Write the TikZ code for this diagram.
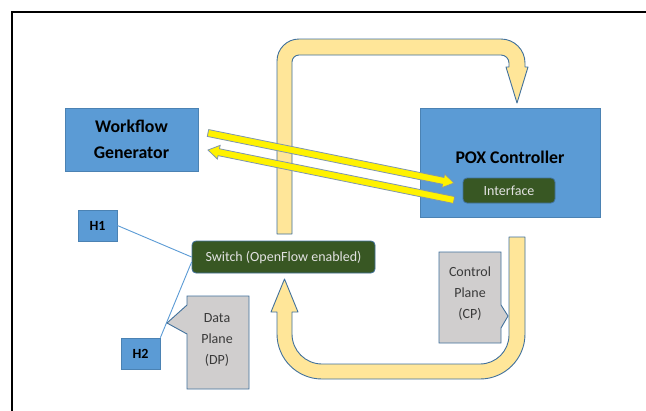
\documentclass[tikz,border=0pt]{standalone}
\usepackage{fontspec}
\setmainfont{Carlito}
\usetikzlibrary{calc}
\definecolor{boxblue}{HTML}{5B9BD5}
\definecolor{edgeblue}{HTML}{41719C}
\definecolor{dkgreen}{HTML}{385723}
\definecolor{lorange}{HTML}{FFE699}
\definecolor{calgray}{HTML}{D0CECE}
\definecolor{yarrowedge}{HTML}{7F96AE}
\definecolor{lightline}{HTML}{5B9BD5}
\definecolor{caltxt}{HTML}{3A3A3A}
\definecolor{greentxt}{HTML}{E2E2E2}

\tikzset{
 bluebox/.style={draw=edgeblue!60!boxblue, fill=boxblue, line width=0.8bp, inner sep=0pt, align=center, font=\fontsize{17.8bp}{26bp}\selectfont\bfseries},
 hostbox/.style={bluebox, minimum width=39bp, minimum height=31bp, font=\fontsize{14bp}{17bp}\selectfont\bfseries},
 greenbox/.style={draw=edgeblue, fill=dkgreen, rounded corners=4bp, line width=0.8bp, inner sep=0pt, text=greentxt, font=\fontsize{14bp}{17bp}\selectfont},
 bigarrow/.style={fill=lorange, draw=edgeblue, line width=0.9bp, line join=round},
 calloutbox/.style={fill=calgray, draw=edgeblue, line width=0.9bp},
 caltext/.style={align=center, text=caltxt, font=\fontsize{14bp}{21bp}\selectfont, inner sep=0pt},
 hostline/.style={draw=lightline, line width=0.9bp},
 yarrow/.style={fill=yellow, draw=yarrowedge, line width=0.8bp, line join=miter},
 frameline/.style={draw=black, line width=2bp},
}

\newcommand\myThinArrow[2]{%
 \coordinate (hb) at ($(#2)!11bp!(#1)$);
 \filldraw[yarrow] ($(#1)!3.5bp!90:(#2)$) -- ($(hb)!3.5bp!90:(#2)$) -- ($(hb)!7bp!90:(#2)$) -- (#2) -- ($(hb)!7bp!-90:(#2)$) -- ($(hb)!3.5bp!-90:(#2)$) -- ($(#1)!3.5bp!-90:(#2)$) -- cycle;}

\begin{document}
\begin{tikzpicture}[x=1bp,y=-1bp]
\useasboundingbox (0,0) rectangle (646,410);
\clip (0,0) rectangle (646,410);
\fill[white] (0,0) rectangle (646,410);

% frame
\draw[frameline] (11.5,420) -- (11.5,11.5) -- (660,11.5);

% upper U arrow (switch -> controller)
\filldraw[bigarrow] (277,234) -- (277,61) .. controls (277,48.85) and (286.85,39) .. (299,39)
 -- (501,39) .. controls (514.25,39) and (525,49.75) .. (525,63)
 -- (525,67) -- (528,67) -- (517,103) -- (506,67) -- (509,67)
 -- (509,63) .. controls (509,58.6) and (505.4,55) .. (501,55)
 -- (299,55) .. controls (295.13,55) and (292,58.13) .. (292,62)
 -- (292,234) -- cycle;

% lower U arrow (controller -> switch)
\filldraw[bigarrow] (509,237) -- (525,237) -- (525,334) .. controls (525,358.85) and (504.85,379) .. (480,379)
 -- (322,379) .. controls (297.15,379) and (277,358.85) .. (277,334)
 -- (277,312) -- (271,312) -- (284.5,279) -- (298,312) -- (292,312)
 -- (292,334) .. controls (292,350.57) and (305.43,364) .. (322,364)
 -- (480,364) .. controls (496,364) and (509,351) .. (509,335) -- cycle;

% boxes
\node[bluebox, minimum width=133bp, minimum height=63bp] (wg) at (131.5,139.5) {Workflow\\Generator};
\node[bluebox, minimum width=180bp, minimum height=109bp] (pox) at (510,162.5) {};
\node[font=\fontsize{17.8bp}{20bp}\selectfont\bfseries, inner sep=0pt] (poxlbl) at (510,157) {POX Controller};
\node[greenbox, minimum width=92bp, minimum height=25bp] (intf) at (509,190.5) {Interface};
\node[greenbox, minimum width=183bp, minimum height=32bp] (sw) at (283.5,257) {Switch (OpenFlow enabled)};
\node[hostbox] (h1) at (97.5,225.5) {H1};
\node[hostbox] (h2) at (140.5,353.5) {H2};

% host links
\draw[hostline] (h1.east) -- (sw.west);
\draw[hostline] (h2.north east) -- ($(sw.west)+(0,5)$);

% thin yellow arrows
\coordinate (a1t) at (208,133);
\coordinate (a1h) at (454,183);
\coordinate (a2t) at (454,200);
\coordinate (a2h) at (208,150);
\myThinArrow{a1t}{a1h}
\myThinArrow{a2t}{a2h}

% callouts
\filldraw[calloutbox] (187,296) -- (187,305) -- (167,323) -- (187,334) -- (187,389) -- (249,389) -- (249,296) -- cycle;
\node[caltext] (dp) at (217,340) {Data\\Plane\\(DP)};
\filldraw[calloutbox] (439,252) -- (439,343) -- (501,343) -- (501,328) -- (508,316) -- (501,305) -- (501,252) -- cycle;
\node[caltext] (cp) at (470,294) {Control\\Plane\\(CP)};
\end{tikzpicture}
\end{document}
